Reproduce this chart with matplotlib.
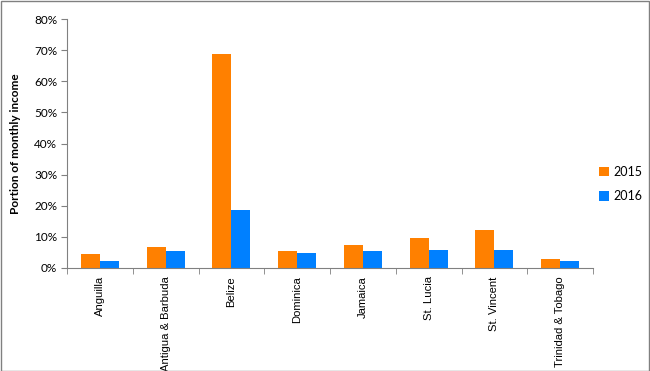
import matplotlib
matplotlib.use("Agg")
import matplotlib.pyplot as plt
import numpy as np
from matplotlib.ticker import PercentFormatter

categories = ["Anguilla", "Antigua & Barbuda", "Belize", "Dominica", "Jamaica",
              "St. Lucia", "St. Vincent", "Trinidad & Tobago"]
v2015 = [4.5, 6.8, 68.6, 5.5, 7.4, 9.6, 12.2, 2.9]
v2016 = [2.3, 5.5, 18.7, 4.8, 5.6, 5.8, 5.8, 2.3]
series_names = ["2015", "2016"]
yticks = [0, 10, 20, 30, 40, 50, 60, 70, 80]

fig = plt.figure(figsize=(6.5, 3.71), dpi=100)
fig.patch.set_facecolor("white")
W, H = 650, 371
ax = fig.add_axes([67 / W, 1 - 268 / H, (593 - 67) / W, (268 - 19) / H])

x = np.arange(len(categories))
bw = 0.29
ax.bar(x - bw / 2, v2015, width=bw, color="#FF8000", label=series_names[0])
ax.bar(x + bw / 2, v2016, width=bw, color="#0080FF", label=series_names[1])

ax.set_xlim(-0.5, len(categories) - 0.5)
ax.set_ylim(0, 80)
ax.set_yticks(yticks)
ax.yaxis.set_major_formatter(PercentFormatter(decimals=0))
ax.set_xticks(x)
ax.set_xticklabels(categories, rotation=90, fontsize=8.1, family="Liberation Sans", va="top")
ax.set_xticks(np.arange(len(categories) + 1) - 0.5, minor=True)
ax.tick_params(axis="x", which="major", length=0, pad=6)
ax.tick_params(axis="x", which="minor", length=4, color="#808080", direction="out")
ax.tick_params(axis="y", length=4, color="#808080", direction="out", labelsize=8.5, pad=3)
for lab in ax.get_yticklabels():
    lab.set_family("Lato")

for s in ["top", "right"]:
    ax.spines[s].set_visible(False)
for s in ["left", "bottom"]:
    ax.spines[s].set_color("#808080")
    ax.spines[s].set_linewidth(0.8)

ax.set_ylabel("Portion of monthly income", fontsize=8.5, fontweight="bold", family="Lato")
ax.yaxis.set_label_coords(-46 / (593 - 67), 0.5)

leg = fig.legend(loc="center left", bbox_to_anchor=(588 / W, 1 - 184 / H), frameon=False,
                 prop={"family": "Lato", "size": 9}, handlelength=0.8, handleheight=0.8,
                 handletextpad=0.3, labelspacing=1.0)

fig.add_artist(plt.Rectangle((0.5 / W, 0.5 / H), 1 - 1.5 / W, 1 - 1.5 / H, transform=fig.transFigure,
                             fill=False, edgecolor="#808080", linewidth=1.0))

fig.savefig("out.png", dpi=100, facecolor="white")
